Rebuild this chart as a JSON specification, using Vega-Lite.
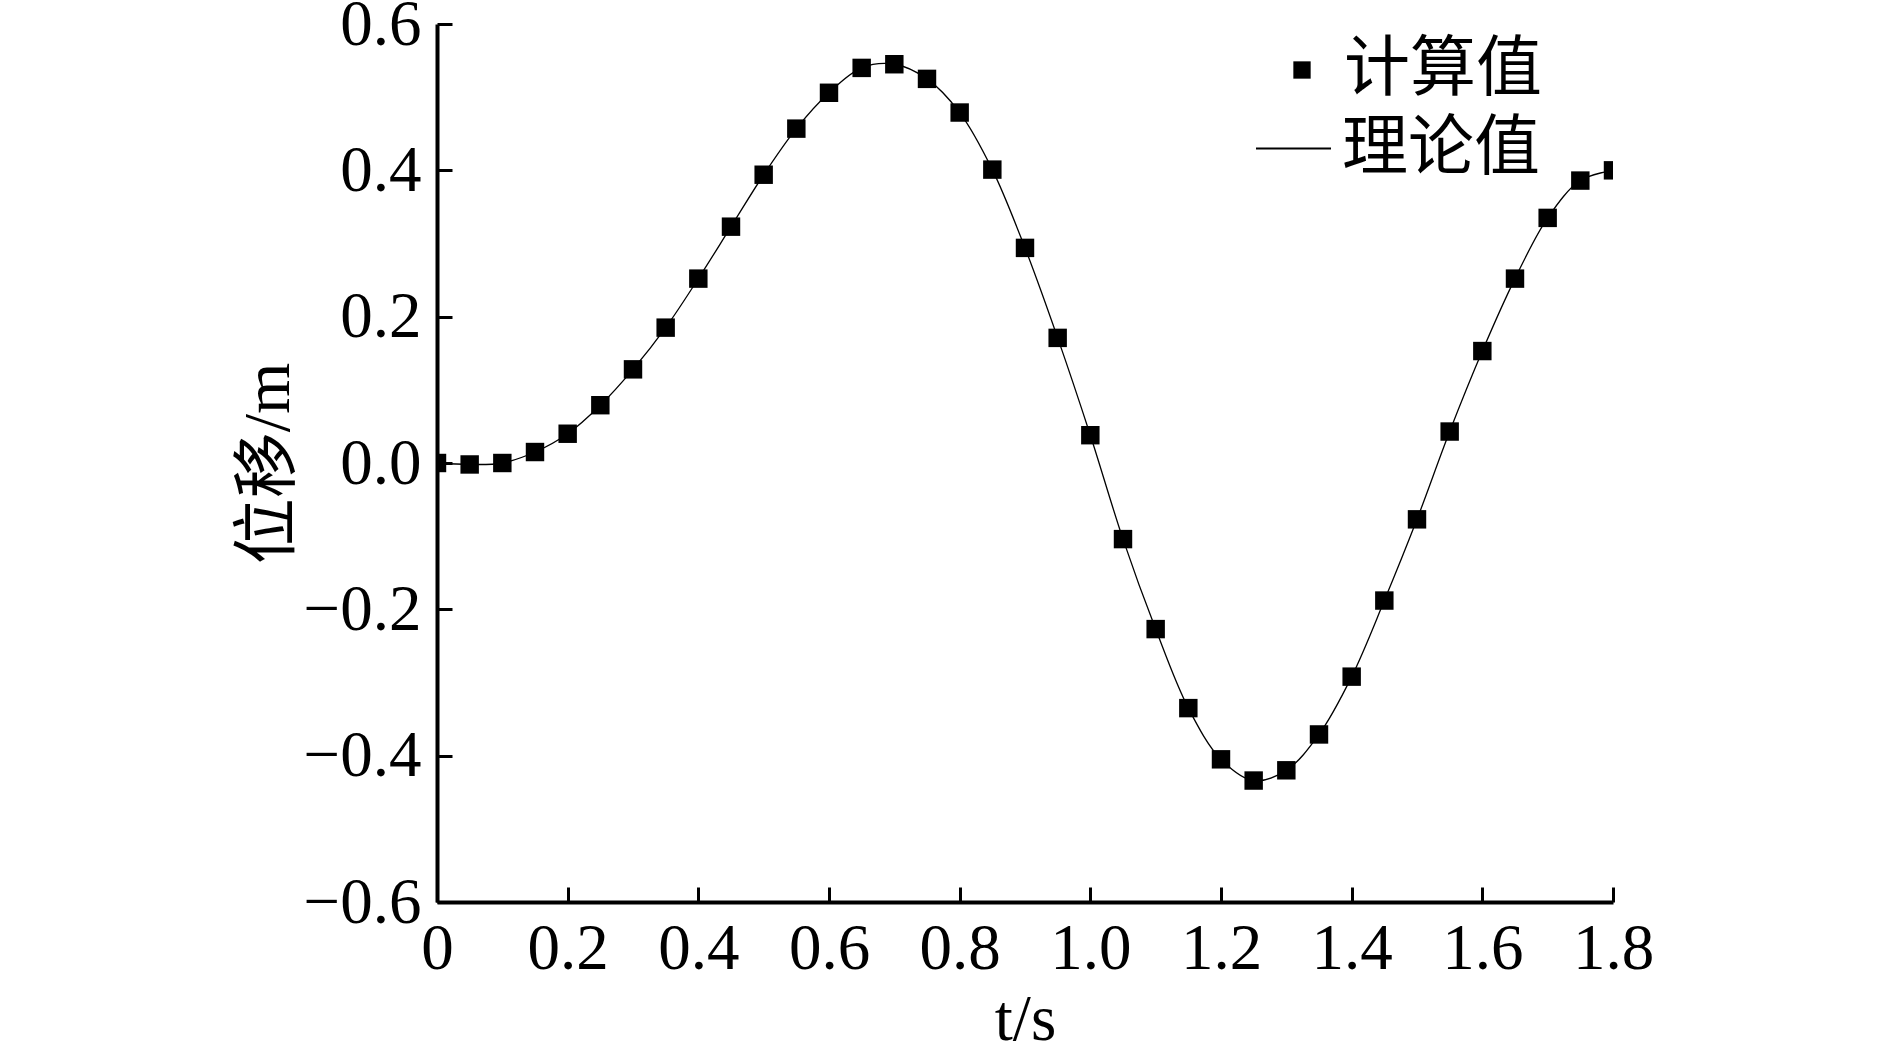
{
  "$schema": "https://vega.github.io/schema/vega-lite/v6.json",
  "width": 1176,
  "height": 878,
  "autosize": {"type": "none"},
  "padding": {"left": 437, "top": 24, "right": 277, "bottom": 146},
  "background": "white",
  "config": {
    "view": {"stroke": null},
    "axis": {
      "domainColor": "black",
      "domainWidth": 4,
      "tickColor": "black",
      "tickWidth": 3,
      "tickSize": -15,
      "labelFont": "Liberation Serif",
      "labelFontSize": 65,
      "labelColor": "black",
      "grid": false,
      "titleColor": "black",
      "titleFontWeight": "normal"
    },
    "legend": {
      "padding": 0,
      "rowPadding": 0,
      "labelFont": "Noto Sans CJK SC",
      "labelFontSize": 66,
      "labelColor": "black",
      "labelLimit": 0
    }
  },
  "data": {
    "values": [
      {"t": 0.00, "d": 0.000},
      {"t": 0.05, "d": -0.002},
      {"t": 0.10, "d": 0.000},
      {"t": 0.15, "d": 0.015},
      {"t": 0.20, "d": 0.040},
      {"t": 0.25, "d": 0.079},
      {"t": 0.30, "d": 0.128},
      {"t": 0.35, "d": 0.185},
      {"t": 0.40, "d": 0.252},
      {"t": 0.45, "d": 0.323},
      {"t": 0.50, "d": 0.394},
      {"t": 0.55, "d": 0.457},
      {"t": 0.60, "d": 0.506},
      {"t": 0.65, "d": 0.540},
      {"t": 0.70, "d": 0.545},
      {"t": 0.75, "d": 0.525},
      {"t": 0.80, "d": 0.479},
      {"t": 0.85, "d": 0.401},
      {"t": 0.90, "d": 0.294},
      {"t": 0.95, "d": 0.171},
      {"t": 1.00, "d": 0.038},
      {"t": 1.05, "d": -0.104},
      {"t": 1.10, "d": -0.227},
      {"t": 1.15, "d": -0.335},
      {"t": 1.20, "d": -0.405},
      {"t": 1.25, "d": -0.434},
      {"t": 1.30, "d": -0.420},
      {"t": 1.35, "d": -0.371},
      {"t": 1.40, "d": -0.292},
      {"t": 1.45, "d": -0.188},
      {"t": 1.50, "d": -0.077},
      {"t": 1.55, "d": 0.043},
      {"t": 1.60, "d": 0.153},
      {"t": 1.65, "d": 0.252},
      {"t": 1.70, "d": 0.335},
      {"t": 1.75, "d": 0.386},
      {"t": 1.80, "d": 0.400}
    ]
  },
  "encoding": {
    "x": {
      "field": "t",
      "type": "quantitative",
      "scale": {"domain": [0, 1.8], "nice": false, "zero": false},
      "axis": {
        "title": "t/s",
        "titleFont": "Liberation Serif",
        "titleFontSize": 65,
        "titlePadding": 7,
        "values": [0, 0.2, 0.4, 0.6, 0.8, 1.0, 1.2, 1.4, 1.6, 1.8],
        "labelExpr": "datum.value == 0 ? '0' : format(datum.value, '.1f')",
        "labelPadding": 30,
        "labelFlush": false,
        "labelOverlap": false
      }
    },
    "y": {
      "field": "d",
      "type": "quantitative",
      "scale": {"domain": [-0.6, 0.6], "nice": false, "zero": false},
      "axis": {
        "title": "位移/m",
        "titleFont": "'Liberation Serif', 'Noto Sans CJK SC'",
        "titleFontSize": 66,
        "titlePadding": 1,
        "values": [-0.6, -0.4, -0.2, 0, 0.2, 0.4, 0.6],
        "format": ".1f",
        "labelPadding": 31,
        "labelFlush": false,
        "labelOverlap": false
      }
    }
  },
  "layer": [
    {
      "mark": {"type": "line", "strokeWidth": 1.3, "interpolate": "catmull-rom", "clip": true},
      "encoding": {
        "color": {
          "datum": "理论值",
          "type": "nominal",
          "scale": {"domain": ["理论值"], "range": ["black"]},
          "legend": {
            "title": null,
            "orient": "none",
            "legendX": 818,
            "legendY": 86,
            "symbolType": "stroke",
            "symbolSize": 5625,
            "symbolStrokeWidth": 2,
            "labelOffset": 10
          }
        }
      }
    },
    {
      "mark": {"type": "point", "filled": true, "color": "black", "opacity": 1, "size": 340, "clip": true},
      "encoding": {
        "shape": {
          "datum": "计算值",
          "type": "nominal",
          "scale": {"domain": ["计算值"], "range": ["square"]},
          "legend": {
            "title": null,
            "orient": "none",
            "legendX": 832,
            "legendY": 13,
            "symbolSize": 300,
            "symbolFillColor": "black",
            "symbolStrokeColor": "black",
            "symbolStrokeWidth": 0,
            "symbolOpacity": 1,
            "labelOffset": 9,
            "encode": {"symbols": {"update": {"fill": {"value": "black"}, "opacity": {"value": 1}}}}
          }
        }
      }
    }
  ]
}
